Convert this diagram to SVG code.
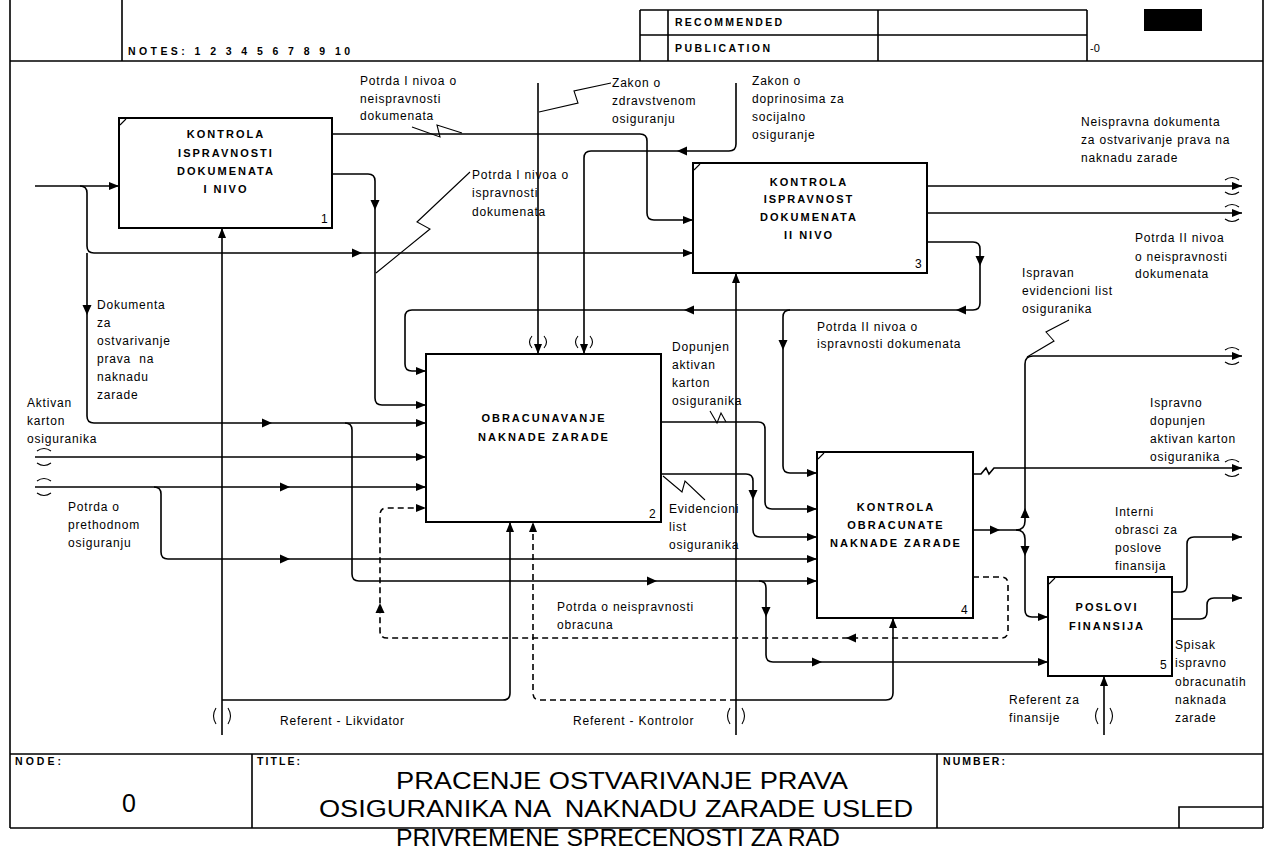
<svg xmlns="http://www.w3.org/2000/svg" xmlns:xlink="http://www.w3.org/1999/xlink" width="1266" height="849" viewBox="0 0 1266 849">
<style>
.frm{fill:none;stroke:#000;stroke-width:1.6}
.box{fill:#fff;stroke:#000;stroke-width:2}
.ln{fill:none;stroke:#000;stroke-width:1.6}
.dsh{fill:none;stroke:#000;stroke-width:1.6;stroke-dasharray:6 4}
.thin{fill:none;stroke:#000;stroke-width:1.1}
.bt{font-family:"Liberation Sans",Arial,sans-serif;font-size:11px;font-weight:bold;letter-spacing:2px;text-anchor:middle}
.num{font-family:"Liberation Sans",Arial,sans-serif;font-size:12px}
.lbl{font-family:"Liberation Sans",Arial,sans-serif;font-size:12px;letter-spacing:0.8px}
.hdr{font-family:"Liberation Sans",Arial,sans-serif;font-size:10.5px;font-weight:bold}
.big{font-family:"Liberation Sans",Arial,sans-serif;font-size:23px}
</style>
<defs>
<marker id="arr" viewBox="0 0 10 8" refX="10" refY="4" markerWidth="10" markerHeight="8" orient="auto" markerUnits="userSpaceOnUse"><path d="M0,0 L10,4 L0,8 Z" fill="#000"/></marker>
<path id="ah" d="M-10,-4.5 L0,0 L-10,4.5 Z" fill="#000"/>
</defs>
<rect width="1266" height="849" fill="#fff"/>

<g id="frame">
<path class="frm" d="M10 0 V828 M1263 0 V828 M10 61 H1263 M122 0 V61 M640 10 H1087 M640 35 H1087 M640 10 V61 M668 10 V61 M878 10 V61 M1087 10 V61 M10 754 H1263 M10 828 H1263 M252 754 V828 M937 754 V828 M1179 828 V807 H1263"/>
<rect x="1144" y="9" width="58" height="22" fill="#000"/>
<text class="hdr" x="128" y="55" textLength="222" lengthAdjust="spacing">NOTES: 1 2 3 4 5 6 7 8 9 10</text>
<text class="hdr" x="675" y="26" textLength="107" lengthAdjust="spacing">RECOMMENDED</text>
<text class="hdr" x="675" y="52" textLength="95" lengthAdjust="spacing">PUBLICATION</text>
<text class="num" x="1090" y="52" style="font-size:11px">-0</text>
<text class="hdr" x="15" y="765" textLength="46" lengthAdjust="spacing">NODE:</text>
<text class="hdr" x="257" y="765" textLength="43" lengthAdjust="spacing">TITLE:</text>
<text class="hdr" x="943" y="765" textLength="62" lengthAdjust="spacing">NUMBER:</text>
<text class="big" x="129" y="812" text-anchor="middle" style="font-size:25px">0</text>
<text class="big" x="396" y="789" textLength="452" lengthAdjust="spacingAndGlyphs">PRACENJE OSTVARIVANJE PRAVA</text>
<text class="big" x="319" y="817" textLength="594" lengthAdjust="spacingAndGlyphs" xml:space="preserve">OSIGURANIKA NA  NAKNADU ZARADE USLED</text>
<text class="big" x="396" y="846" textLength="444" lengthAdjust="spacingAndGlyphs">PRIVREMENE SPRECENOSTI ZA RAD</text>
</g>

<g id="connectors">
<path class="ln" d="M35 186 H119" marker-end="url(#arr)"/>
<path class="ln" d="M80 186 Q87 186 87 193 V246 Q87 253 94 253 H693" marker-end="url(#arr)"/>
<use xlink:href="#ah" href="#ah" transform="translate(362,253)"/>
<path class="ln" d="M87 253 V416 Q87 423 94 423 H426" marker-end="url(#arr)"/>
<use xlink:href="#ah" href="#ah" transform="translate(272,423)"/>
<use xlink:href="#ah" href="#ah" transform="translate(87,315) rotate(90)"/>
<path class="ln" d="M332 134 H640 Q647 134 647 141 V213 Q647 220 654 220 H693" marker-end="url(#arr)"/>
<path class="ln" d="M332 174 H368 Q375 174 375 181 V398 Q375 405 382 405 H426" marker-end="url(#arr)"/>
<use xlink:href="#ah" href="#ah" transform="translate(375,210) rotate(90)"/>
<path class="ln" d="M222 735 V228" marker-end="url(#arr)"/>
<path class="ln" d="M222 700 H503 Q510 700 510 693 V522" marker-end="url(#arr)"/>
<path class="ln" d="M736 735 V273" marker-end="url(#arr)"/>
<path class="ln" d="M736 700 H886 Q893 700 893 693 V618" marker-end="url(#arr)"/>
<path class="dsh" d="M736 700 H540 Q533 700 533 693 V522" marker-end="url(#arr)"/>
<path class="ln" d="M1104 735 V676" marker-end="url(#arr)"/>
<path class="thin" d="M216 708 Q211 716 216 724 M228 708 Q233 716 228 724 M730 708 Q725 716 730 724 M742 708 Q747 716 742 724 M1098 708 Q1093 716 1098 724 M1110 708 Q1115 716 1110 724"/>
<path class="ln" d="M538 83 V354" marker-end="url(#arr)"/>
<path class="ln" d="M736 83 V144 Q736 151 729 151 H591 Q584 151 584 158 V354" marker-end="url(#arr)"/>
<use xlink:href="#ah" href="#ah" transform="translate(677,151) rotate(180)"/>
<path class="thin" d="M532 336 Q527 342 532 348 M544 336 Q549 342 544 348 M578 336 Q573 342 578 348 M590 336 Q595 342 590 348"/>
<path class="ln" d="M927 186 H1242" marker-end="url(#arr)"/>
<path class="ln" d="M927 213 H1242" marker-end="url(#arr)"/>
<path class="ln" d="M927 242 H973 Q980 242 980 249 V303 Q980 310 973 310 H412 Q405 310 405 317 V364 Q405 371 412 371 H426" marker-end="url(#arr)"/>
<use xlink:href="#ah" href="#ah" transform="translate(980,266) rotate(90)"/>
<use xlink:href="#ah" href="#ah" transform="translate(956,310) rotate(180)"/>
<use xlink:href="#ah" href="#ah" transform="translate(684,310) rotate(180)"/>
<path class="ln" d="M790 310 Q783 310 783 317 V466 Q783 473 790 473 H817" marker-end="url(#arr)"/>
<use xlink:href="#ah" href="#ah" transform="translate(783,350) rotate(90)"/>
<path class="ln" d="M661 422 H758 Q765 422 765 429 V502 Q765 509 772 509 H817" marker-end="url(#arr)"/>
<path class="ln" d="M661 474 H746 Q753 474 753 481 V530 Q753 537 760 537 H817" marker-end="url(#arr)"/>
<use xlink:href="#ah" href="#ah" transform="translate(753,500) rotate(90)"/>
<path class="ln" d="M35 457 H426" marker-end="url(#arr)"/>
<path class="ln" d="M35 487 H426" marker-end="url(#arr)"/>
<use xlink:href="#ah" href="#ah" transform="translate(290,487)"/>
<path class="thin" d="M37 451 Q44 446 51 451 M37 463 Q44 468 51 463 M37 481 Q44 476 51 481 M37 493 Q44 498 51 493"/>
<path class="ln" d="M154 487 Q161 487 161 494 V552 Q161 559 168 559 H817" marker-end="url(#arr)"/>
<use xlink:href="#ah" href="#ah" transform="translate(290,559)"/>
<path class="ln" d="M345 423 Q352 423 352 430 V574 Q352 581 359 581 H817" marker-end="url(#arr)"/>
<use xlink:href="#ah" href="#ah" transform="translate(657,581)"/>
<path class="ln" d="M759 581 Q766 581 766 588 V655 Q766 662 773 662 H1048" marker-end="url(#arr)"/>
<use xlink:href="#ah" href="#ah" transform="translate(766,617) rotate(90)"/>
<use xlink:href="#ah" href="#ah" transform="translate(822,662)"/>
<path class="dsh" d="M973 577 H1001 Q1008 577 1008 584 V631 Q1008 638 1001 638 H387 Q380 638 380 631 V515 Q380 508 387 508 H426" marker-end="url(#arr)"/>
<use xlink:href="#ah" href="#ah" transform="translate(846,638) rotate(180)"/>
<use xlink:href="#ah" href="#ah" transform="translate(380,603) rotate(-90)"/>
<path class="ln" d="M973 474 H981 L986 468 L989 474 L994 468 H1242" marker-end="url(#arr)"/>
<path class="ln" d="M973 530 H1016"/>
<use xlink:href="#ah" href="#ah" transform="translate(1000,530)"/>
<path class="ln" d="M1016 530 Q1025 530 1025 521 V364 Q1025 356 1033 356 H1242" marker-end="url(#arr)"/>
<use xlink:href="#ah" href="#ah" transform="translate(1025,508) rotate(-90)"/>
<path class="ln" d="M1016 530 Q1025 530 1025 539 V610 Q1025 617 1032 617 H1048" marker-end="url(#arr)"/>
<use xlink:href="#ah" href="#ah" transform="translate(1025,556) rotate(90)"/>
<path class="ln" d="M1172 592 H1181 Q1187 592 1187 585 V544 Q1187 537 1194 537 H1242" marker-end="url(#arr)"/>
<path class="ln" d="M1172 619 H1200 Q1207 619 1207 612 V605 Q1207 598 1214 598 H1242" marker-end="url(#arr)"/>
<path class="thin" d="M1225 180 Q1232 175 1239 180 M1225 192 Q1232 197 1239 192 M1225 207 Q1232 202 1239 207 M1225 219 Q1232 224 1239 219 M1225 350 Q1232 345 1239 350 M1225 362 Q1232 367 1239 362 M1225 462 Q1232 457 1239 462 M1225 474 Q1232 479 1239 474"/>
<polyline class="thin" points="412,127 440,137 437,125 462,133"/>
<polyline class="thin" points="470,172 417,222 430,229 376,273"/>
<polyline class="thin" points="611,83 574,91 578,103 539,112"/>
<polyline class="thin" points="710,411 717,423 721,413 726,422"/>
<polyline class="thin" points="663,476 682,492 685,481 705,500"/>
<polyline class="thin" points="1069,320 1046,332 1054,341 1027,357"/>
</g>

<g id="node1">
<rect class="box" x="119" y="118" width="213" height="110"/>
<path class="thin" d="M120 125 L126 119"/>
<text class="bt" x="226" y="138">KONTROLA</text>
<text class="bt" x="226" y="157">ISPRAVNOSTI</text>
<text class="bt" x="226" y="175">DOKUMENATA</text>
<text class="bt" x="226" y="193">I NIVO</text>
<text class="num" x="321" y="223">1</text>
</g>
<g id="node2">
<rect class="box" x="426" y="354" width="235" height="168"/>
<text class="bt" x="544" y="422">OBRACUNAVANJE</text>
<text class="bt" x="544" y="441">NAKNADE ZARADE</text>
<text class="num" x="649" y="518">2</text>
</g>
<g id="node3">
<rect class="box" x="693" y="163" width="234" height="110"/>
<path class="thin" d="M694 170 L700 164"/>
<text class="bt" x="809" y="186">KONTROLA</text>
<text class="bt" x="809" y="203">ISPRAVNOST</text>
<text class="bt" x="809" y="221">DOKUMENATA</text>
<text class="bt" x="809" y="239">II NIVO</text>
<text class="num" x="915" y="268">3</text>
</g>
<g id="node4">
<rect class="box" x="817" y="452" width="156" height="166"/>
<path class="thin" d="M818 459 L824 453"/>
<text class="bt" x="896" y="511">KONTROLA</text>
<text class="bt" x="896" y="529">OBRACUNATE</text>
<text class="bt" x="896" y="547">NAKNADE ZARADE</text>
<text class="num" x="961" y="614">4</text>
</g>
<g id="node5">
<rect class="box" x="1048" y="577" width="124" height="99"/>
<path class="thin" d="M1049 584 L1055 578"/>
<text class="bt" x="1107" y="611">POSLOVI</text>
<text class="bt" x="1107" y="630">FINANSIJA</text>
<text class="num" x="1160" y="669">5</text>
</g>

<g id="labels" class="lbl">
<text x="360" y="85">Potrda I nivoa o</text>
<text x="360" y="103">neispravnosti</text>
<text x="360" y="120">dokumenata</text>
<text x="472" y="179">Potrda I nivoa o</text>
<text x="472" y="197">ispravnosti</text>
<text x="472" y="216">dokumenata</text>
<text x="612" y="87">Zakon o</text>
<text x="612" y="105">zdravstvenom</text>
<text x="612" y="123">osiguranju</text>
<text x="752" y="85">Zakon o</text>
<text x="752" y="103">doprinosima za</text>
<text x="752" y="121">socijalno</text>
<text x="752" y="139">osiguranje</text>
<text x="1081" y="126">Neispravna dokumenta</text>
<text x="1081" y="144">za ostvarivanje prava na</text>
<text x="1081" y="162">naknadu zarade</text>
<text x="1135" y="242">Potrda II nivoa</text>
<text x="1135" y="261">o neispravnosti</text>
<text x="1135" y="278">dokumenata</text>
<text x="1022" y="277">Ispravan</text>
<text x="1022" y="295">evidencioni list</text>
<text x="1022" y="313">osiguranika</text>
<text x="817" y="331">Potrda II nivoa o</text>
<text x="817" y="348">ispravnosti dokumenata</text>
<text x="97" y="309">Dokumenta</text>
<text x="97" y="327">za</text>
<text x="97" y="345">ostvarivanje</text>
<text x="97" y="363" xml:space="preserve">prava  na</text>
<text x="97" y="381">naknadu</text>
<text x="97" y="399">zarade</text>
<text x="27" y="407">Aktivan</text>
<text x="27" y="425">karton</text>
<text x="27" y="443">osiguranika</text>
<text x="68" y="511">Potrda o</text>
<text x="68" y="529">prethodnom</text>
<text x="68" y="547">osiguranju</text>
<text x="672" y="351">Dopunjen</text>
<text x="672" y="369">aktivan</text>
<text x="672" y="387">karton</text>
<text x="672" y="405">osiguranika</text>
<text x="669" y="513">Evidencioni</text>
<text x="669" y="531">list</text>
<text x="669" y="549">osiguranika</text>
<text x="557" y="611">Potrda o neispravnosti</text>
<text x="557" y="629">obracuna</text>
<text x="280" y="725">Referent - Likvidator</text>
<text x="573" y="725">Referent - Kontrolor</text>
<text x="1009" y="704">Referent za</text>
<text x="1009" y="722">finansije</text>
<text x="1150" y="407">Ispravno</text>
<text x="1150" y="425">dopunjen</text>
<text x="1150" y="443">aktivan karton</text>
<text x="1150" y="461">osiguranika</text>
<text x="1115" y="516">Interni</text>
<text x="1115" y="534">obrasci za</text>
<text x="1115" y="552">poslove</text>
<text x="1115" y="570">finansija</text>
<text x="1175" y="649">Spisak</text>
<text x="1175" y="667">ispravno</text>
<text x="1175" y="686">obracunatih</text>
<text x="1175" y="704">naknada</text>
<text x="1175" y="722">zarade</text>
</g>
</svg>
